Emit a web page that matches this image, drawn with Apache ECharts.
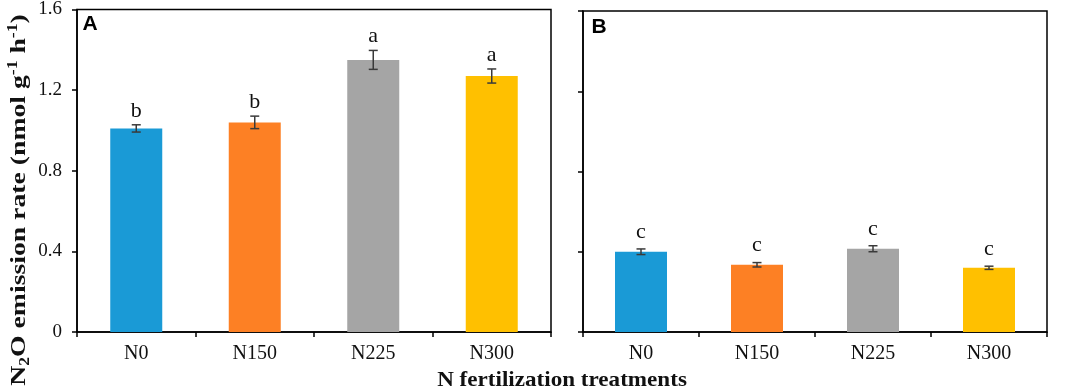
<!DOCTYPE html>
<html>
<head>
<meta charset="utf-8">
<script src="https://cdn.jsdelivr.net/npm/echarts@6/dist/echarts.min.js"></script>
<style>
  html, body { margin: 0; padding: 0; background: #fff; }
  #chart { width: 1065px; height: 392px; }
</style>
</head>
<body>
<div id="chart"></div>
<script>
// categories and values
const treatments = ['N0', 'N150', 'N225', 'N300'];
const yTicks = [0, 0.4, 0.8, 1.2, 1.6];

// panel A
const rateA = [1.01, 1.04, 1.35, 1.27];
const errA = [0.018, 0.031, 0.047, 0.035];
const letterA = ['b', 'b', 'a', 'a'];

// panel B
const rateB = [0.40, 0.335, 0.415, 0.32];
const errB = [0.014, 0.011, 0.015, 0.008];
const letterB = ['c', 'c', 'c', 'c'];

const barColors = ['#1a9ad6', '#fd8024', '#a5a5a5', '#ffc000'];
const serif = '"Liberation Serif", "Times New Roman", serif';
const sans = '"Liberation Sans", Arial, sans-serif';

let myChart = echarts.init(document.getElementById('chart'));

function xAxisFor(gridIndex) {
  return {
    type: 'category',
    gridIndex,
    data: treatments,
    axisLine: { lineStyle: { color: '#000', width: 1.5 } },
    axisTick: { show: true, length: 5, lineStyle: { color: '#000', width: 1.5 } },
    axisLabel: { color: '#111', fontFamily: serif, fontSize: 20, margin: 12 },
  };
}

function yAxisFor(gridIndex, showLabels) {
  return {
    type: 'value',
    gridIndex,
    min: yTicks[0],
    max: yTicks[yTicks.length - 1],
    interval: 0.4,
    splitLine: { show: false },
    axisLine: { show: true, lineStyle: { color: '#000', width: 1.5 } },
    axisTick: { show: true, length: 5, lineStyle: { color: '#000', width: 1.5 } },
    axisLabel: {
      show: showLabels,
      color: '#111',
      fontFamily: serif,
      fontSize: 19,
      margin: 15,
      formatter: (v) => (v === 0 ? '0' : v.toFixed(1)),
    },
  };
}

function barSeries(idx, values) {
  return {
    type: 'bar',
    xAxisIndex: idx,
    yAxisIndex: idx,
    barWidth: 52,
    data: values.map((v, i) => ({ value: v, itemStyle: { color: barColors[i] } })),
    z: 2,
  };
}

// error bar + significance letter
function errSeries(idx, values, errs, letters, gap) {
  return {
    type: 'custom',
    xAxisIndex: idx,
    yAxisIndex: idx,
    z: 5,
    data: values.map((v, i) => [i, v, errs[i], letters[i]]),
    renderItem: (params, api) => {
      const i = api.value(0);
      const v = api.value(1);
      const e = api.value(2);
      const top = api.coord([i, v + e]);
      const bot = api.coord([i, v - e]);
      const x = top[0];
      const cap = 4.5;
      const lineStyle = { stroke: '#3a3a3a', lineWidth: 1.5 };
      return {
        type: 'group',
        children: [
          { type: 'line', shape: { x1: x, y1: top[1], x2: x, y2: bot[1] }, style: lineStyle },
          { type: 'line', shape: { x1: x - cap, y1: top[1], x2: x + cap, y2: top[1] }, style: lineStyle },
          { type: 'line', shape: { x1: x - cap, y1: bot[1], x2: x + cap, y2: bot[1] }, style: lineStyle },
          {
            type: 'text',
            style: {
              text: letters[i],
              x: x,
              y: top[1] - gap,
              align: 'center',
              verticalAlign: 'middle',
              fill: '#111',
              font: '22px ' + serif,
            },
          },
        ],
      };
    },
  };
}

let option = {
  backgroundColor: '#fff',
  animation: false,
  grid: [
    { left: 77, top: 8, width: 474, height: 324, show: true, borderColor: '#000', borderWidth: 1.5 },
    { left: 583, top: 11, width: 464, height: 321, show: true, borderColor: '#000', borderWidth: 1.5 },
  ],
  xAxis: [xAxisFor(0), xAxisFor(1)],
  yAxis: [yAxisFor(0, true), yAxisFor(1, false)],
  series: [
    barSeries(0, rateA),
    errSeries(0, rateA, errA, letterA, 14),
    barSeries(1, rateB),
    errSeries(1, rateB, errB, letterB, 17),
  ],
  graphic: [
    {
      // y axis title, stretched along its reading direction like the original
      type: 'text',
      x: 19,
      y: 200,
      rotation: Math.PI / 2,
      scaleX: 1.26,
      style: {
        text: '{b|N}{sub|2}{b|O emission rate (nmol g}{sup|-1}{b| h}{sup|-1}{b|)}',
        align: 'center',
        verticalAlign: 'middle',
        rich: {
          b: { fontFamily: serif, fontWeight: 'bold', fontSize: 22, lineHeight: 26, fill: '#111' },
          sub: { fontFamily: serif, fontWeight: 'bold', fontSize: 14, lineHeight: 15, verticalAlign: 'bottom', fill: '#111' },
          sup: { fontFamily: serif, fontWeight: 'bold', fontSize: 14, lineHeight: 15, verticalAlign: 'top', fill: '#111' },
        },
      },
    },
    {
      type: 'text',
      x: 562,
      y: 381,
      scaleX: 1.1,
      style: {
        text: 'N fertilization treatments',
        align: 'center',
        verticalAlign: 'middle',
        font: 'bold 21px ' + serif,
        fill: '#111',
      },
    },
    {
      type: 'text',
      x: 90,
      y: 24,
      style: { text: 'A', align: 'center', verticalAlign: 'middle', font: 'bold 21px ' + sans, fill: '#000' },
    },
    {
      type: 'text',
      x: 599,
      y: 27,
      style: { text: 'B', align: 'center', verticalAlign: 'middle', font: 'bold 21px ' + sans, fill: '#000' },
    },
  ],
};

myChart.setOption(option);
</script>
</body>
</html>
